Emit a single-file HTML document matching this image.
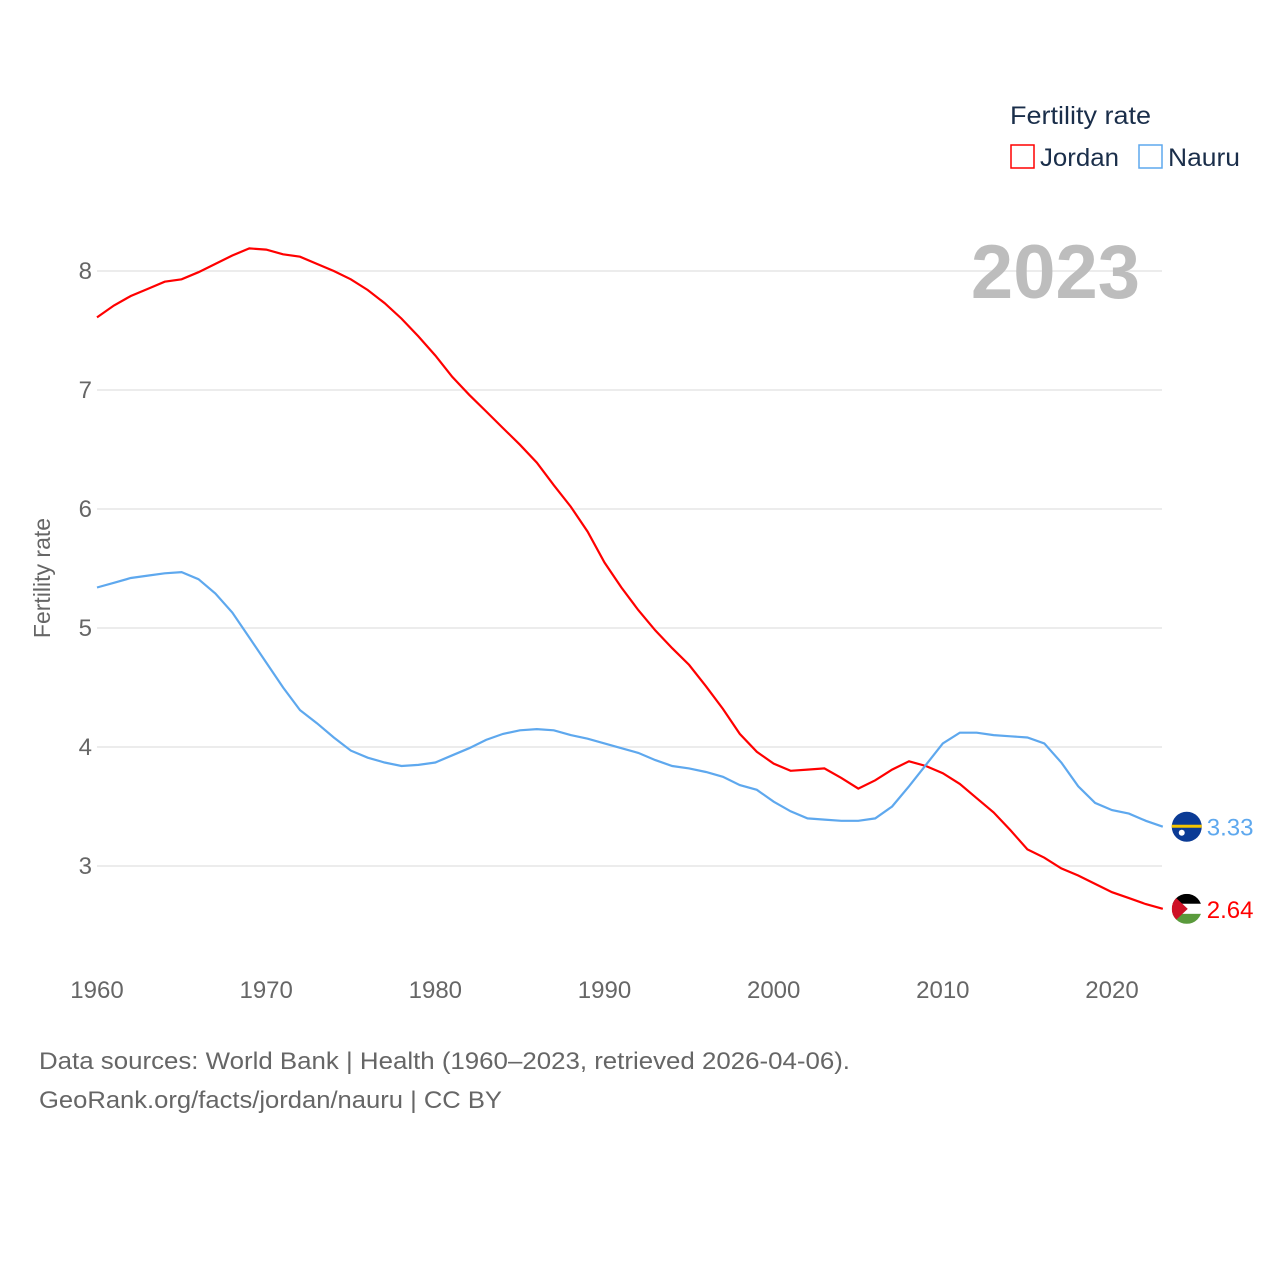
<!DOCTYPE html>
<html><head><meta charset="utf-8"><style>
body{margin:0;background:#fff;font-family:"Liberation Sans",sans-serif}
svg text{font-family:"Liberation Sans",sans-serif}
</style></head><body>
<svg id="chart" width="1280" height="1280" viewBox="0 0 1280 1280" xmlns="http://www.w3.org/2000/svg">
<g id="grid"></g>
<g id="yt"></g>
<g id="xt"></g>
<text x="1140" y="298" text-anchor="end" font-size="76" font-weight="bold" fill="#bdbdbd">2023</text>
<text transform="translate(50,578) rotate(-90)" text-anchor="middle" font-size="23" fill="#666">Fertility rate</text>
<g>
<text x="1010" y="124" font-size="25" fill="#1a2e4a" textLength="141" lengthAdjust="spacingAndGlyphs">Fertility rate</text>
<rect x="1011" y="145" width="23" height="23" fill="none" stroke="#f00" stroke-width="1.5"/>
<text x="1040" y="166" font-size="25" fill="#1a2e4a" textLength="79" lengthAdjust="spacingAndGlyphs">Jordan</text>
<rect x="1139" y="145" width="23" height="23" fill="none" stroke="#5ea8ee" stroke-width="1.5"/>
<text x="1168" y="166" font-size="25" fill="#1a2e4a" textLength="72" lengthAdjust="spacingAndGlyphs">Nauru</text>
</g>
<g id="series"></g>
<g id="ends"></g>
<text x="39" y="1069" font-size="24" fill="#666" textLength="811" lengthAdjust="spacingAndGlyphs">Data sources: World Bank | Health (1960–2023, retrieved 2026-04-06).</text>
<text x="39" y="1108" font-size="24" fill="#666" textLength="463" lengthAdjust="spacingAndGlyphs">GeoRank.org/facts/jordan/nauru | CC BY</text>
</svg>
<script>
const years=[];for(let y=1960;y<=2023;y++)years.push(y);
const jordan=[7.61,7.71,7.79,7.85,7.91,7.93,7.99,8.06,8.13,8.19,8.18,8.14,8.12,8.06,8.0,7.93,7.84,7.73,7.60,7.45,7.29,7.11,6.96,6.82,6.68,6.54,6.39,6.20,6.02,5.81,5.55,5.34,5.15,4.98,4.83,4.69,4.51,4.32,4.11,3.96,3.86,3.80,3.81,3.82,3.74,3.65,3.72,3.81,3.88,3.84,3.78,3.69,3.57,3.45,3.30,3.14,3.07,2.98,2.92,2.85,2.78,2.73,2.68,2.64];
const nauru=[5.34,5.38,5.42,5.44,5.46,5.47,5.41,5.29,5.13,4.92,4.71,4.50,4.31,4.20,4.08,3.97,3.91,3.87,3.84,3.85,3.87,3.93,3.99,4.06,4.11,4.14,4.15,4.14,4.10,4.07,4.03,3.99,3.95,3.89,3.84,3.82,3.79,3.75,3.68,3.64,3.54,3.46,3.40,3.39,3.38,3.38,3.40,3.50,3.67,3.85,4.03,4.12,4.12,4.10,4.09,4.08,4.03,3.87,3.67,3.53,3.47,3.44,3.38,3.33];
const yTicks=[3,4,5,6,7,8];
const xTicks=[1960,1970,1980,1990,2000,2010,2020];
const NS="http://www.w3.org/2000/svg";
const X=y=>97+(y-1960)*(1015/60);
const Y=v=>866-(v-3)*119;
function mk(t,a,p){const e=document.createElementNS(NS,t);for(const k in a)e.setAttribute(k,a[k]);p.appendChild(e);return e;}
const grid=document.getElementById('grid'),yt=document.getElementById('yt'),xt=document.getElementById('xt');
yTicks.forEach(v=>{
 const l=mk('line',{x1:97,x2:1162,y1:Y(v),y2:Y(v),stroke:'#e6e6e6','stroke-width':1.5},grid);
 
 
 const t=mk('text',{x:92,y:Y(v)+8,'text-anchor':'end','font-size':24,fill:'#666'},yt);t.textContent=v;
 
 
});
xTicks.forEach(v=>{
 const t=mk('text',{x:X(v),y:998,'text-anchor':'middle','font-size':24,fill:'#666'},xt);t.textContent=v;
 
 
});
const s=document.getElementById('series');
[[jordan,'#f00','jordan'],[nauru,'#5ea8ee','nauru']].forEach(([d,c,n])=>{
 const p=mk('path',{d:d.map((v,i)=>(i?'L':'M')+X(years[i]).toFixed(1)+','+Y(v).toFixed(1)).join(''),fill:'none',stroke:c,'stroke-width':2.2},s);
 
 
});
const ends=document.getElementById('ends');
const xe=X(2023)+24;
const ny=Y(nauru[nauru.length-1]);
let g=mk('g',{},ends);


mk('circle',{cx:xe,cy:ny,r:15,fill:'#0b3b95'},g);
mk('rect',{x:xe-15,y:ny-2,width:30,height:3,fill:'#f5c400'},g);
mk('circle',{cx:xe-5,cy:ny+6,r:3,fill:'#fff'},g);
let t=mk('text',{x:xe+20,y:ny+9,'font-size':24,fill:'#5ea8ee'},ends);t.textContent=nauru[nauru.length-1].toFixed(2);


const jy=Y(jordan[jordan.length-1]);
g=mk('g',{},ends);


const cp=mk('clipPath',{id:'jc'},g);mk('circle',{cx:xe,cy:jy,r:15},cp);
const gg=mk('g',{'clip-path':'url(#jc)'},g);
mk('rect',{x:xe-15,y:jy-15,width:30,height:10,fill:'#000'},gg);
mk('rect',{x:xe-15,y:jy-5,width:30,height:10,fill:'#fff'},gg);
mk('rect',{x:xe-15,y:jy+5,width:30,height:10,fill:'#5a9a3c'},gg);
mk('path',{d:`M${xe-15},${jy-15}L${xe+1},${jy}L${xe-15},${jy+15}Z`,fill:'#ce1126'},gg);
t=mk('text',{x:xe+20,y:jy+9,'font-size':24,fill:'#f00'},ends);t.textContent=jordan[jordan.length-1].toFixed(2);


</script>
</body></html>
